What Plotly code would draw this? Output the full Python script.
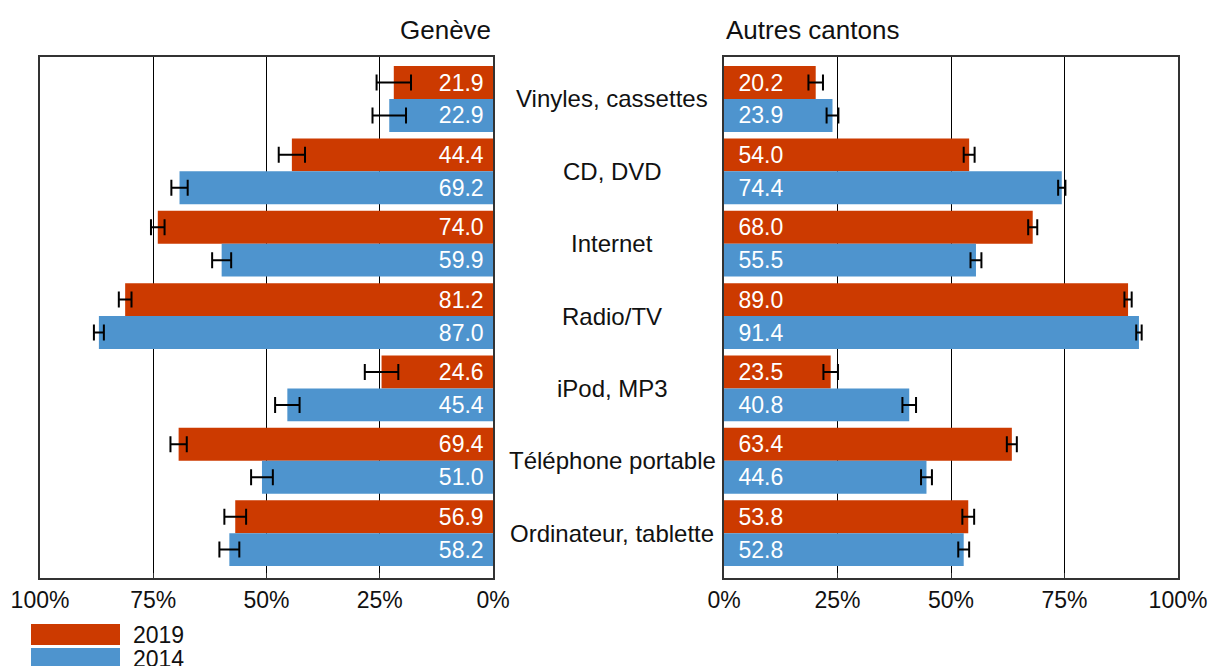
import plotly.graph_objects as go

categories = ["Vinyles, cassettes", "CD, DVD", "Internet", "Radio/TV",
              "iPod, MP3", "Téléphone portable", "Ordinateur, tablette"]
geneve_2019 = [21.9, 44.4, 74.0, 81.2, 24.6, 69.4, 56.9]
geneve_2014 = [22.9, 69.2, 59.9, 87.0, 45.4, 51.0, 58.2]
geneve_2019_err = [3.8, 2.9, 1.5, 1.4, 3.7, 1.8, 2.4]
geneve_2014_err = [3.7, 1.8, 2.1, 1.1, 2.7, 2.4, 2.2]
autres_2019 = [20.2, 54.0, 68.0, 89.0, 23.5, 63.4, 53.8]
autres_2014 = [23.9, 74.4, 55.5, 91.4, 40.8, 44.6, 52.8]
autres_2019_err = [1.6, 1.2, 1.0, 0.8, 1.6, 1.1, 1.3]
autres_2014_err = [1.3, 0.8, 1.2, 0.6, 1.5, 1.2, 1.2]
tick_vals = [0, 25, 50, 75, 100]
tick_text = ["0%", "25%", "50%", "75%", "100%"]
series_names = ["2019", "2014"]
colors = ["#CC3A00", "#4E94CE"]

W, H = 1208, 666
ML, MR, MT, MB = 40, 30, 57, 88
PW, PH = W - ML - MR, H - MT - MB
FONT = "Liberation Sans, Arial, sans-serif"


def px(x):
    return (x - ML) / PW


def py(y):
    return (H - MB - y) / PH


left_dom = [0, px(493)]
right_dom = [px(724), 1]

fig = go.Figure()

panels = [
    ("x", "y", [geneve_2019, geneve_2014], [geneve_2019_err, geneve_2014_err], "{:.1f}\u00a0"),
    ("x2", "y2", [autres_2019, autres_2014], [autres_2019_err, autres_2014_err], "\u2002{:.1f}"),
]
for xa, ya, vals, errs, fmt in panels:
    for i in range(2):
        fig.add_trace(go.Bar(
            y=categories, x=vals[i], orientation="h",
            xaxis=xa, yaxis=ya, name=series_names[i],
            marker=dict(color=colors[i], line=dict(width=0)),
            text=[fmt.format(v) for v in vals[i]],
            textposition="inside", insidetextanchor="start",
            textfont=dict(color="white", size=23, family=FONT),
            error_x=dict(type="data", array=errs[i], color="black",
                         thickness=2, width=8),
            showlegend=False, cliponaxis=False, hoverinfo="skip",
        ))

yrange = [6.62, -0.58]
axis_common = dict(
    tickvals=tick_vals, ticktext=tick_text,
    showgrid=True, gridcolor="black", gridwidth=1,
    showline=True, linecolor="#333333", linewidth=2, mirror=True,
    ticks="inside", ticklen=5, tickcolor="#333333",
    tickfont=dict(size=23, color="#111111", family=FONT),
    zeroline=False, layer="below traces", autorange=False, automargin=False,
)
yaxis_common = dict(
    range=yrange, showticklabels=False, showgrid=False, zeroline=False,
    categoryorder="array", categoryarray=categories, automargin=False,
    showline=True, linecolor="#333333", linewidth=2, mirror=True, ticks="",
)
fig.update_layout(
    xaxis=dict(domain=left_dom, range=[100, 0], anchor="y", **axis_common),
    xaxis2=dict(domain=right_dom, range=[0, 100], anchor="y2", **axis_common),
    yaxis=dict(anchor="x", **yaxis_common),
    yaxis2=dict(anchor="x2", **yaxis_common),
)

fig.update_layout(
    barmode="group", bargap=0.09, bargroupgap=0,
    width=W, height=H, autosize=False,
    margin=dict(l=ML, r=MR, t=MT, b=MB, autoexpand=False),
    plot_bgcolor="white", paper_bgcolor="white",
    font=dict(family=FONT, color="#111111"),
    showlegend=False,
)

# panel titles
fig.add_annotation(text="Genève", xref="paper", yref="paper",
                   x=px(493), y=py(30), xanchor="right", yanchor="middle",
                   showarrow=False, font=dict(size=26, family=FONT, color="#111111"))
fig.add_annotation(text="Autres cantons", xref="paper", yref="paper",
                   x=px(724), y=py(30), xanchor="left", yanchor="middle",
                   showarrow=False, font=dict(size=26, family=FONT, color="#111111"))

# category labels between panels
for c in categories:
    fig.add_annotation(text=c, xref="paper", yref="y", x=px(612), y=c,
                       xanchor="center", yanchor="middle", showarrow=False,
                       font=dict(size=24, family=FONT, color="#111111"))

# legend
for i, name in enumerate(series_names):
    y0 = 624 + i * 24
    fig.add_shape(type="rect", xref="paper", yref="paper",
                  x0=px(31), x1=px(120), y0=py(y0 + 21), y1=py(y0),
                  fillcolor=colors[i], line=dict(width=0))
    fig.add_annotation(text=name, xref="paper", yref="paper",
                       x=px(131), y=py(y0 + 11), xanchor="left", yanchor="middle",
                       showarrow=False, font=dict(size=23, family=FONT, color="#111111"))

fig.write_html("out.html", config={"displayModeBar": False},
               post_script="document.body.style.margin='0';document.body.style.padding='0';document.documentElement.style.overflow='hidden';")
